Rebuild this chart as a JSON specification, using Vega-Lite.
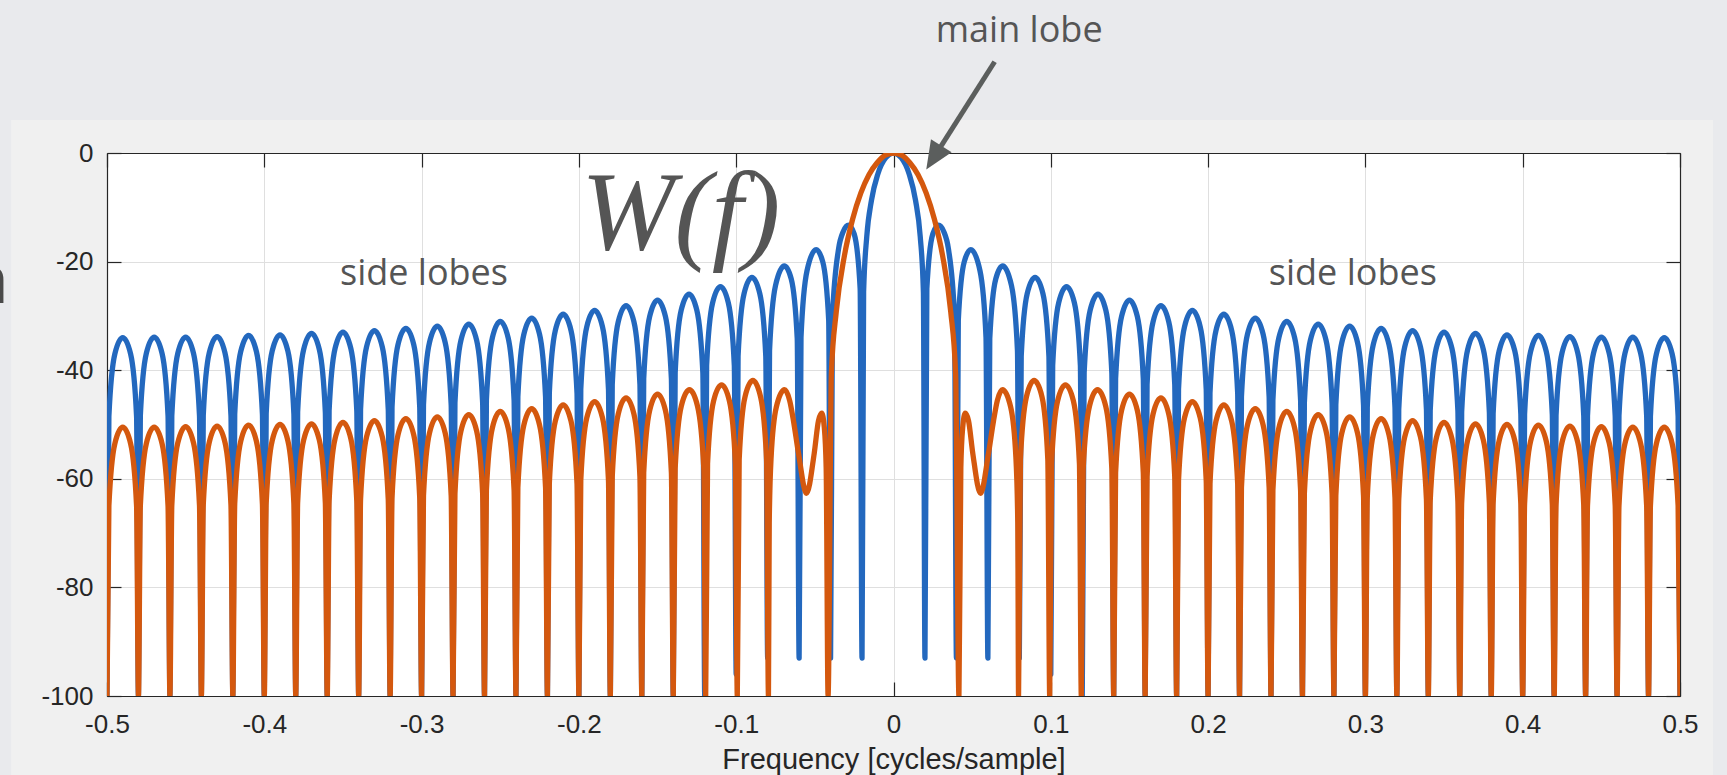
{
"$schema": "https://vega.github.io/schema/vega-lite/v6.json",
"autosize": {"type": "none"},
"width": 1573,
"height": 543,
"padding": {"left": 107, "top": 153, "right": 47, "bottom": 79},
"background": "#f0f0f0",
"config": {"view": {"fill": "white", "stroke": null}},
"datasets": {
"rect": [
{"f":-0.5,"db":-100},{"f":-0.4988,"db":-48.5},{"f":-0.495,"db":-37.0},{"f":-0.49,"db":-34.0},{"f":-0.485,"db":-37.0},{"f":-0.4812,"db":-48.5},
{"f":-0.48,"db":-100},{"f":-0.4788,"db":-48.4},{"f":-0.475,"db":-36.9},{"f":-0.47,"db":-33.9},{"f":-0.465,"db":-36.9},{"f":-0.4612,"db":-48.4},
{"f":-0.46,"db":-100},{"f":-0.4588,"db":-48.4},{"f":-0.455,"db":-36.9},{"f":-0.45,"db":-33.9},{"f":-0.445,"db":-36.9},{"f":-0.4412,"db":-48.4},
{"f":-0.44,"db":-100},{"f":-0.4388,"db":-48.3},{"f":-0.435,"db":-36.8},{"f":-0.43,"db":-33.8},{"f":-0.425,"db":-36.8},{"f":-0.4212,"db":-48.3},
{"f":-0.42,"db":-100},{"f":-0.4188,"db":-48.1},{"f":-0.415,"db":-36.6},{"f":-0.41,"db":-33.6},{"f":-0.405,"db":-36.6},{"f":-0.4012,"db":-48.1},
{"f":-0.4,"db":-100},{"f":-0.3988,"db":-48.0},{"f":-0.395,"db":-36.5},{"f":-0.39,"db":-33.5},{"f":-0.385,"db":-36.5},{"f":-0.3812,"db":-48.0},
{"f":-0.38,"db":-100},{"f":-0.3788,"db":-47.7},{"f":-0.375,"db":-36.2},{"f":-0.37,"db":-33.2},{"f":-0.365,"db":-36.2},{"f":-0.3612,"db":-47.7},
{"f":-0.36,"db":-100},{"f":-0.3588,"db":-47.5},{"f":-0.355,"db":-36.0},{"f":-0.35,"db":-33.0},{"f":-0.345,"db":-36.0},{"f":-0.3412,"db":-47.5},
{"f":-0.34,"db":-100},{"f":-0.3388,"db":-47.2},{"f":-0.335,"db":-35.7},{"f":-0.33,"db":-32.7},{"f":-0.325,"db":-35.7},{"f":-0.3212,"db":-47.2},
{"f":-0.32,"db":-100},{"f":-0.3188,"db":-46.8},{"f":-0.315,"db":-35.3},{"f":-0.31,"db":-32.3},{"f":-0.305,"db":-35.3},{"f":-0.3012,"db":-46.8},
{"f":-0.3,"db":-100},{"f":-0.2988,"db":-46.4},{"f":-0.295,"db":-34.9},{"f":-0.29,"db":-31.9},{"f":-0.285,"db":-34.9},{"f":-0.2812,"db":-46.4},
{"f":-0.28,"db":-100},{"f":-0.2788,"db":-46.0},{"f":-0.275,"db":-34.5},{"f":-0.27,"db":-31.5},{"f":-0.265,"db":-34.5},{"f":-0.2612,"db":-46.0},
{"f":-0.26,"db":-100},{"f":-0.2588,"db":-45.5},{"f":-0.255,"db":-34.0},{"f":-0.25,"db":-31.0},{"f":-0.245,"db":-34.0},{"f":-0.2412,"db":-45.5},
{"f":-0.24,"db":-100},{"f":-0.2388,"db":-44.9},{"f":-0.235,"db":-33.4},{"f":-0.23,"db":-30.4},{"f":-0.225,"db":-33.4},{"f":-0.2212,"db":-44.9},
{"f":-0.22,"db":-100},{"f":-0.2188,"db":-44.2},{"f":-0.215,"db":-32.7},{"f":-0.21,"db":-29.7},{"f":-0.205,"db":-32.7},{"f":-0.2012,"db":-44.2},
{"f":-0.2,"db":-100},{"f":-0.1988,"db":-43.5},{"f":-0.195,"db":-32.0},{"f":-0.19,"db":-29.0},{"f":-0.185,"db":-32.0},{"f":-0.1812,"db":-43.5},
{"f":-0.18,"db":-100},{"f":-0.1788,"db":-42.6},{"f":-0.175,"db":-31.1},{"f":-0.17,"db":-28.1},{"f":-0.165,"db":-31.1},{"f":-0.1612,"db":-42.6},
{"f":-0.16,"db":-100},{"f":-0.1588,"db":-41.6},{"f":-0.155,"db":-30.1},{"f":-0.15,"db":-27.1},{"f":-0.145,"db":-30.1},{"f":-0.1412,"db":-41.6},
{"f":-0.14,"db":-100},{"f":-0.1388,"db":-40.5},{"f":-0.135,"db":-29.0},{"f":-0.13,"db":-26.0},{"f":-0.125,"db":-29.0},{"f":-0.1212,"db":-40.5},
{"f":-0.12,"db":-100},{"f":-0.1188,"db":-39.1},{"f":-0.115,"db":-27.6},{"f":-0.11,"db":-24.6},{"f":-0.105,"db":-27.6},{"f":-0.1012,"db":-39.1},
{"f":-0.1,"db":-96},{"f":-0.0988,"db":-37.4},{"f":-0.095,"db":-25.9},{"f":-0.09,"db":-22.9},{"f":-0.085,"db":-25.9},{"f":-0.0812,"db":-37.4},
{"f":-0.08,"db":-93},{"f":-0.0788,"db":-36.4},{"f":-0.075,"db":-24.4},{"f":-0.0694,"db":-20.8},{"f":-0.065,"db":-23.2},{"f":-0.0612,"db":-34.2},
{"f":-0.06,"db":-93},{"f":-0.0588,"db":-33.9},{"f":-0.055,"db":-21.7},{"f":-0.0492,"db":-17.8},{"f":-0.045,"db":-20.0},{"f":-0.0412,"db":-30.8},
{"f":-0.04,"db":-93},{"f":-0.0388,"db":-30.2},{"f":-0.035,"db":-17.8},{"f":-0.032,"db":-14.5},{"f":-0.0286,"db":-13.3},{"f":-0.025,"db":-14.9},{"f":-0.0212,"db":-25.0},
{"f":-0.02,"db":-93},{"f":-0.019,"db":-25.6},{"f":-0.017,"db":-15.4},{"f":-0.014,"db":-8.7},{"f":-0.01,"db":-3.9},{"f":-0.005,"db":-0.9},
{"f":0,"db":0},
{"f":0.005,"db":-0.9},{"f":0.01,"db":-3.9},{"f":0.014,"db":-8.7},{"f":0.017,"db":-15.4},{"f":0.019,"db":-25.6},{"f":0.02,"db":-93},
{"f":0.0212,"db":-25.0},{"f":0.025,"db":-14.9},{"f":0.0286,"db":-13.3},{"f":0.032,"db":-14.5},{"f":0.035,"db":-17.8},{"f":0.0388,"db":-30.2},{"f":0.04,"db":-93},
{"f":0.0412,"db":-30.8},{"f":0.045,"db":-20.0},{"f":0.0492,"db":-17.8},{"f":0.055,"db":-21.7},{"f":0.0588,"db":-33.9},{"f":0.06,"db":-93},
{"f":0.0612,"db":-34.2},{"f":0.065,"db":-23.2},{"f":0.0694,"db":-20.8},{"f":0.075,"db":-24.4},{"f":0.0788,"db":-36.4},{"f":0.08,"db":-93},
{"f":0.0812,"db":-37.4},{"f":0.085,"db":-25.9},{"f":0.09,"db":-22.9},{"f":0.095,"db":-25.9},{"f":0.0988,"db":-37.4},{"f":0.1,"db":-96},
{"f":0.1012,"db":-39.1},{"f":0.105,"db":-27.6},{"f":0.11,"db":-24.6},{"f":0.115,"db":-27.6},{"f":0.1188,"db":-39.1},{"f":0.12,"db":-100},
{"f":0.1212,"db":-40.5},{"f":0.125,"db":-29.0},{"f":0.13,"db":-26.0},{"f":0.135,"db":-29.0},{"f":0.1388,"db":-40.5},{"f":0.14,"db":-100},
{"f":0.1412,"db":-41.6},{"f":0.145,"db":-30.1},{"f":0.15,"db":-27.1},{"f":0.155,"db":-30.1},{"f":0.1588,"db":-41.6},{"f":0.16,"db":-100},
{"f":0.1612,"db":-42.6},{"f":0.165,"db":-31.1},{"f":0.17,"db":-28.1},{"f":0.175,"db":-31.1},{"f":0.1788,"db":-42.6},{"f":0.18,"db":-100},
{"f":0.1812,"db":-43.5},{"f":0.185,"db":-32.0},{"f":0.19,"db":-29.0},{"f":0.195,"db":-32.0},{"f":0.1988,"db":-43.5},{"f":0.2,"db":-100},
{"f":0.2012,"db":-44.2},{"f":0.205,"db":-32.7},{"f":0.21,"db":-29.7},{"f":0.215,"db":-32.7},{"f":0.2188,"db":-44.2},{"f":0.22,"db":-100},
{"f":0.2212,"db":-44.9},{"f":0.225,"db":-33.4},{"f":0.23,"db":-30.4},{"f":0.235,"db":-33.4},{"f":0.2388,"db":-44.9},{"f":0.24,"db":-100},
{"f":0.2412,"db":-45.5},{"f":0.245,"db":-34.0},{"f":0.25,"db":-31.0},{"f":0.255,"db":-34.0},{"f":0.2588,"db":-45.5},{"f":0.26,"db":-100},
{"f":0.2612,"db":-46.0},{"f":0.265,"db":-34.5},{"f":0.27,"db":-31.5},{"f":0.275,"db":-34.5},{"f":0.2788,"db":-46.0},{"f":0.28,"db":-100},
{"f":0.2812,"db":-46.4},{"f":0.285,"db":-34.9},{"f":0.29,"db":-31.9},{"f":0.295,"db":-34.9},{"f":0.2988,"db":-46.4},{"f":0.3,"db":-100},
{"f":0.3012,"db":-46.8},{"f":0.305,"db":-35.3},{"f":0.31,"db":-32.3},{"f":0.315,"db":-35.3},{"f":0.3188,"db":-46.8},{"f":0.32,"db":-100},
{"f":0.3212,"db":-47.2},{"f":0.325,"db":-35.7},{"f":0.33,"db":-32.7},{"f":0.335,"db":-35.7},{"f":0.3388,"db":-47.2},{"f":0.34,"db":-100},
{"f":0.3412,"db":-47.5},{"f":0.345,"db":-36.0},{"f":0.35,"db":-33.0},{"f":0.355,"db":-36.0},{"f":0.3588,"db":-47.5},{"f":0.36,"db":-100},
{"f":0.3612,"db":-47.7},{"f":0.365,"db":-36.2},{"f":0.37,"db":-33.2},{"f":0.375,"db":-36.2},{"f":0.3788,"db":-47.7},{"f":0.38,"db":-100},
{"f":0.3812,"db":-48.0},{"f":0.385,"db":-36.5},{"f":0.39,"db":-33.5},{"f":0.395,"db":-36.5},{"f":0.3988,"db":-48.0},{"f":0.4,"db":-100},
{"f":0.4012,"db":-48.1},{"f":0.405,"db":-36.6},{"f":0.41,"db":-33.6},{"f":0.415,"db":-36.6},{"f":0.4188,"db":-48.1},{"f":0.42,"db":-100},
{"f":0.4212,"db":-48.3},{"f":0.425,"db":-36.8},{"f":0.43,"db":-33.8},{"f":0.435,"db":-36.8},{"f":0.4388,"db":-48.3},{"f":0.44,"db":-100},
{"f":0.4412,"db":-48.4},{"f":0.445,"db":-36.9},{"f":0.45,"db":-33.9},{"f":0.455,"db":-36.9},{"f":0.4588,"db":-48.4},{"f":0.46,"db":-100},
{"f":0.4612,"db":-48.4},{"f":0.465,"db":-36.9},{"f":0.47,"db":-33.9},{"f":0.475,"db":-36.9},{"f":0.4788,"db":-48.4},{"f":0.48,"db":-100},
{"f":0.4812,"db":-48.5},{"f":0.485,"db":-37.0},{"f":0.49,"db":-34.0},{"f":0.495,"db":-37.0},{"f":0.4988,"db":-48.5},{"f":0.5,"db":-100}
],
"hamming": [
{"f":-0.5,"db":-100},{"f":-0.4988,"db":-65.0},{"f":-0.495,"db":-53.5},{"f":-0.49,"db":-50.5},{"f":-0.485,"db":-53.5},{"f":-0.4812,"db":-65.0},
{"f":-0.48,"db":-100},{"f":-0.4788,"db":-65.0},{"f":-0.475,"db":-53.5},{"f":-0.47,"db":-50.5},{"f":-0.465,"db":-53.5},{"f":-0.4612,"db":-65.0},
{"f":-0.46,"db":-100},{"f":-0.4588,"db":-64.9},{"f":-0.455,"db":-53.4},{"f":-0.45,"db":-50.4},{"f":-0.445,"db":-53.4},{"f":-0.4412,"db":-64.9},
{"f":-0.44,"db":-100},{"f":-0.4388,"db":-64.8},{"f":-0.435,"db":-53.3},{"f":-0.43,"db":-50.3},{"f":-0.425,"db":-53.3},{"f":-0.4212,"db":-64.8},
{"f":-0.42,"db":-100},{"f":-0.4188,"db":-64.6},{"f":-0.415,"db":-53.1},{"f":-0.41,"db":-50.1},{"f":-0.405,"db":-53.1},{"f":-0.4012,"db":-64.6},
{"f":-0.4,"db":-100},{"f":-0.3988,"db":-64.5},{"f":-0.395,"db":-53.0},{"f":-0.39,"db":-50.0},{"f":-0.385,"db":-53.0},{"f":-0.3812,"db":-64.5},
{"f":-0.38,"db":-100},{"f":-0.3788,"db":-64.4},{"f":-0.375,"db":-52.9},{"f":-0.37,"db":-49.9},{"f":-0.365,"db":-52.9},{"f":-0.3612,"db":-64.4},
{"f":-0.36,"db":-100},{"f":-0.3588,"db":-64.1},{"f":-0.355,"db":-52.6},{"f":-0.35,"db":-49.6},{"f":-0.345,"db":-52.6},{"f":-0.3412,"db":-64.1},
{"f":-0.34,"db":-100},{"f":-0.3388,"db":-63.8},{"f":-0.335,"db":-52.3},{"f":-0.33,"db":-49.3},{"f":-0.325,"db":-52.3},{"f":-0.3212,"db":-63.8},
{"f":-0.32,"db":-100},{"f":-0.3188,"db":-63.4},{"f":-0.315,"db":-51.9},{"f":-0.31,"db":-48.9},{"f":-0.305,"db":-51.9},{"f":-0.3012,"db":-63.4},
{"f":-0.3,"db":-100},{"f":-0.2988,"db":-63.1},{"f":-0.295,"db":-51.6},{"f":-0.29,"db":-48.6},{"f":-0.285,"db":-51.6},{"f":-0.2812,"db":-63.1},
{"f":-0.28,"db":-100},{"f":-0.2788,"db":-62.7},{"f":-0.275,"db":-51.2},{"f":-0.27,"db":-48.2},{"f":-0.265,"db":-51.2},{"f":-0.2612,"db":-62.7},
{"f":-0.26,"db":-100},{"f":-0.2588,"db":-62.1},{"f":-0.255,"db":-50.6},{"f":-0.25,"db":-47.6},{"f":-0.245,"db":-50.6},{"f":-0.2412,"db":-62.1},
{"f":-0.24,"db":-100},{"f":-0.2388,"db":-61.6},{"f":-0.235,"db":-50.1},{"f":-0.23,"db":-47.1},{"f":-0.225,"db":-50.1},{"f":-0.2212,"db":-61.6},
{"f":-0.22,"db":-100},{"f":-0.2188,"db":-60.9},{"f":-0.215,"db":-49.4},{"f":-0.21,"db":-46.4},{"f":-0.205,"db":-49.4},{"f":-0.2012,"db":-60.9},
{"f":-0.2,"db":-100},{"f":-0.1988,"db":-60.3},{"f":-0.195,"db":-48.8},{"f":-0.19,"db":-45.8},{"f":-0.185,"db":-48.8},{"f":-0.1812,"db":-60.3},
{"f":-0.18,"db":-100},{"f":-0.1788,"db":-59.6},{"f":-0.175,"db":-48.1},{"f":-0.17,"db":-45.1},{"f":-0.165,"db":-48.1},{"f":-0.1612,"db":-59.6},
{"f":-0.16,"db":-100},{"f":-0.1588,"db":-58.9},{"f":-0.155,"db":-47.4},{"f":-0.15,"db":-44.4},{"f":-0.145,"db":-47.4},{"f":-0.1412,"db":-58.9},
{"f":-0.14,"db":-100},{"f":-0.1388,"db":-58.1},{"f":-0.1349,"db":-46.6},{"f":-0.1297,"db":-43.6},{"f":-0.1246,"db":-46.6},{"f":-0.1206,"db":-58.1},
{"f":-0.1194,"db":-100},{"f":-0.1182,"db":-57.2},{"f":-0.1144,"db":-45.7},{"f":-0.1093,"db":-42.7},{"f":-0.1043,"db":-45.7},{"f":-0.1005,"db":-57.2},
{"f":-0.0993,"db":-100},{"f":-0.0981,"db":-56.4},{"f":-0.0944,"db":-44.9},{"f":-0.0894,"db":-41.9},{"f":-0.0845,"db":-44.9},{"f":-0.0807,"db":-56.4},
{"f":-0.0795,"db":-100},{"f":-0.079,"db":-68},{"f":-0.0778,"db":-56.0},{"f":-0.0745,"db":-46.8},{"f":-0.0693,"db":-43.6},{"f":-0.066,"db":-45.6},{"f":-0.0636,"db":-49.3},
{"f":-0.0604,"db":-55.3},{"f":-0.0553,"db":-62.7},{"f":-0.0504,"db":-55.3},{"f":-0.0477,"db":-49.3},{"f":-0.0456,"db":-47.9},{"f":-0.044,"db":-50.5},{"f":-0.0428,"db":-58},
{"f":-0.0416,"db":-100},{"f":-0.0395,"db":-40.7},{"f":-0.0364,"db":-29.3},{"f":-0.0312,"db":-18.9},{"f":-0.026,"db":-12.2},{"f":-0.0208,"db":-7.4},{"f":-0.0156,"db":-4.0},{"f":-0.0104,"db":-1.8},{"f":-0.0052,"db":-0.4},
{"f":0,"db":0},
{"f":0.0052,"db":-0.4},{"f":0.0104,"db":-1.8},{"f":0.0156,"db":-4.0},{"f":0.0208,"db":-7.4},{"f":0.026,"db":-12.2},{"f":0.0312,"db":-18.9},{"f":0.0364,"db":-29.3},{"f":0.0395,"db":-40.7},{"f":0.0416,"db":-100},
{"f":0.0428,"db":-58},{"f":0.044,"db":-50.5},{"f":0.0456,"db":-47.9},{"f":0.0477,"db":-49.3},{"f":0.0504,"db":-55.3},{"f":0.0553,"db":-62.7},{"f":0.0604,"db":-55.3},
{"f":0.0636,"db":-49.3},{"f":0.066,"db":-45.6},{"f":0.0693,"db":-43.6},{"f":0.0745,"db":-46.8},{"f":0.0778,"db":-56.0},{"f":0.079,"db":-68},{"f":0.0795,"db":-100},
{"f":0.0807,"db":-56.4},{"f":0.0845,"db":-44.9},{"f":0.0894,"db":-41.9},{"f":0.0944,"db":-44.9},{"f":0.0981,"db":-56.4},{"f":0.0993,"db":-100},
{"f":0.1005,"db":-57.2},{"f":0.1043,"db":-45.7},{"f":0.1093,"db":-42.7},{"f":0.1144,"db":-45.7},{"f":0.1182,"db":-57.2},{"f":0.1194,"db":-100},
{"f":0.1206,"db":-58.1},{"f":0.1246,"db":-46.6},{"f":0.1297,"db":-43.6},{"f":0.1349,"db":-46.6},{"f":0.1388,"db":-58.1},{"f":0.14,"db":-100},
{"f":0.1412,"db":-58.9},{"f":0.145,"db":-47.4},{"f":0.15,"db":-44.4},{"f":0.155,"db":-47.4},{"f":0.1588,"db":-58.9},{"f":0.16,"db":-100},
{"f":0.1612,"db":-59.6},{"f":0.165,"db":-48.1},{"f":0.17,"db":-45.1},{"f":0.175,"db":-48.1},{"f":0.1788,"db":-59.6},{"f":0.18,"db":-100},
{"f":0.1812,"db":-60.3},{"f":0.185,"db":-48.8},{"f":0.19,"db":-45.8},{"f":0.195,"db":-48.8},{"f":0.1988,"db":-60.3},{"f":0.2,"db":-100},
{"f":0.2012,"db":-60.9},{"f":0.205,"db":-49.4},{"f":0.21,"db":-46.4},{"f":0.215,"db":-49.4},{"f":0.2188,"db":-60.9},{"f":0.22,"db":-100},
{"f":0.2212,"db":-61.6},{"f":0.225,"db":-50.1},{"f":0.23,"db":-47.1},{"f":0.235,"db":-50.1},{"f":0.2388,"db":-61.6},{"f":0.24,"db":-100},
{"f":0.2412,"db":-62.1},{"f":0.245,"db":-50.6},{"f":0.25,"db":-47.6},{"f":0.255,"db":-50.6},{"f":0.2588,"db":-62.1},{"f":0.26,"db":-100},
{"f":0.2612,"db":-62.7},{"f":0.265,"db":-51.2},{"f":0.27,"db":-48.2},{"f":0.275,"db":-51.2},{"f":0.2788,"db":-62.7},{"f":0.28,"db":-100},
{"f":0.2812,"db":-63.1},{"f":0.285,"db":-51.6},{"f":0.29,"db":-48.6},{"f":0.295,"db":-51.6},{"f":0.2988,"db":-63.1},{"f":0.3,"db":-100},
{"f":0.3012,"db":-63.4},{"f":0.305,"db":-51.9},{"f":0.31,"db":-48.9},{"f":0.315,"db":-51.9},{"f":0.3188,"db":-63.4},{"f":0.32,"db":-100},
{"f":0.3212,"db":-63.8},{"f":0.325,"db":-52.3},{"f":0.33,"db":-49.3},{"f":0.335,"db":-52.3},{"f":0.3388,"db":-63.8},{"f":0.34,"db":-100},
{"f":0.3412,"db":-64.1},{"f":0.345,"db":-52.6},{"f":0.35,"db":-49.6},{"f":0.355,"db":-52.6},{"f":0.3588,"db":-64.1},{"f":0.36,"db":-100},
{"f":0.3612,"db":-64.4},{"f":0.365,"db":-52.9},{"f":0.37,"db":-49.9},{"f":0.375,"db":-52.9},{"f":0.3788,"db":-64.4},{"f":0.38,"db":-100},
{"f":0.3812,"db":-64.5},{"f":0.385,"db":-53.0},{"f":0.39,"db":-50.0},{"f":0.395,"db":-53.0},{"f":0.3988,"db":-64.5},{"f":0.4,"db":-100},
{"f":0.4012,"db":-64.6},{"f":0.405,"db":-53.1},{"f":0.41,"db":-50.1},{"f":0.415,"db":-53.1},{"f":0.4188,"db":-64.6},{"f":0.42,"db":-100},
{"f":0.4212,"db":-64.8},{"f":0.425,"db":-53.3},{"f":0.43,"db":-50.3},{"f":0.435,"db":-53.3},{"f":0.4388,"db":-64.8},{"f":0.44,"db":-100},
{"f":0.4412,"db":-64.9},{"f":0.445,"db":-53.4},{"f":0.45,"db":-50.4},{"f":0.455,"db":-53.4},{"f":0.4588,"db":-64.9},{"f":0.46,"db":-100},
{"f":0.4612,"db":-65.0},{"f":0.465,"db":-53.5},{"f":0.47,"db":-50.5},{"f":0.475,"db":-53.5},{"f":0.4788,"db":-65.0},{"f":0.48,"db":-100},
{"f":0.4812,"db":-65.0},{"f":0.485,"db":-53.5},{"f":0.49,"db":-50.5},{"f":0.495,"db":-53.5},{"f":0.4988,"db":-65.0},{"f":0.5,"db":-100}
]
},
"resolve": {"axis": {"x": "independent", "y": "independent"}},
"layer": [
{
"data": {"values": [{}]},
"mark": {"type": "rect", "color": "#e9eaed"},
"encoding": {
"x": {"datum": -0.6, "type": "quantitative", "scale": {"domain": [-0.5, 0.5], "nice": false, "zero": false}, "axis": null},
"x2": {"datum": 0.6},
"y": {"datum": 30, "type": "quantitative", "scale": {"domain": [-100, 0], "nice": false, "zero": false}, "axis": null},
"y2": {"datum": 6.08}
}
},
{
"data": {"values": [{}]},
"mark": {"type": "rect", "color": "#e9eaed"},
"encoding": {
"x": {"datum": -0.6, "type": "quantitative", "scale": {"domain": [-0.5, 0.5], "nice": false, "zero": false}, "axis": null},
"x2": {"datum": -0.561},
"y": {"datum": 30, "type": "quantitative", "scale": {"domain": [-100, 0], "nice": false, "zero": false}, "axis": null},
"y2": {"datum": -130}
}
},
{
"data": {"values": [{}]},
"mark": {"type": "rect", "color": "#e9eaed"},
"encoding": {
"x": {"datum": 0.521, "type": "quantitative", "scale": {"domain": [-0.5, 0.5], "nice": false, "zero": false}, "axis": null},
"x2": {"datum": 0.6},
"y": {"datum": 30, "type": "quantitative", "scale": {"domain": [-100, 0], "nice": false, "zero": false}, "axis": null},
"y2": {"datum": -130}
}
},
{
"data": {"name": "rect"},
"mark": {"type": "line", "color": "#2368BE", "strokeWidth": 5.3, "interpolate": "monotone", "clip": true, "strokeJoin": "round"},
"encoding": {
"x": {"field": "f", "type": "quantitative", "scale": {"domain": [-0.5, 0.5], "nice": false, "zero": false},
"axis": {"orient": "bottom", "values": [-0.5, -0.4, -0.3, -0.2, -0.1, 0, 0.1, 0.2, 0.3, 0.4, 0.5], "labelExpr": "toString(datum.value)",
"labelFont": "Liberation Sans", "labelFontSize": 26, "labelColor": "#262626", "labelPadding": 29, "labelFlush": false,
"tickSize": -14, "tickColor": "#262626", "tickWidth": 1.2, "domainColor": "#262626", "domainWidth": 1.2,
"grid": true, "gridColor": "#dfdfdf", "gridWidth": 1,
"title": "Frequency [cycles/sample]", "titleFont": "Liberation Sans", "titleFontSize": 29, "titleFontWeight": "normal", "titleColor": "#262626", "titleBaseline": "alphabetic", "titleY": 72}},
"y": {"field": "db", "type": "quantitative", "scale": {"domain": [-100, 0], "nice": false, "zero": false},
"axis": {"orient": "left", "values": [-100, -80, -60, -40, -20, 0], "labelExpr": "toString(datum.value)",
"labelFont": "Liberation Sans", "labelFontSize": 26, "labelColor": "#262626", "labelPadding": 28,
"tickSize": -14, "tickColor": "#262626", "tickWidth": 1.2, "domainColor": "#262626", "domainWidth": 1.2,
"grid": true, "gridColor": "#dfdfdf", "gridWidth": 1, "title": null}}
}
},
{
"data": {"name": "hamming"},
"mark": {"type": "line", "color": "#D4580E", "strokeWidth": 5.3, "interpolate": "monotone", "clip": true, "strokeJoin": "round"},
"encoding": {
"x": {"field": "f", "type": "quantitative", "scale": {"domain": [-0.5, 0.5], "nice": false, "zero": false},
"axis": {"orient": "top", "values": [-0.5, -0.4, -0.3, -0.2, -0.1, 0, 0.1, 0.2, 0.3, 0.4, 0.5], "labels": false,
"tickSize": -14, "tickColor": "#262626", "tickWidth": 1.2, "domainColor": "#262626", "domainWidth": 1.2, "grid": false, "title": null}},
"y": {"field": "db", "type": "quantitative", "scale": {"domain": [-100, 0], "nice": false, "zero": false},
"axis": {"orient": "right", "values": [-100, -80, -60, -40, -20, 0], "labels": false,
"tickSize": -14, "tickColor": "#262626", "tickWidth": 1.2, "domainColor": "#262626", "domainWidth": 1.2, "grid": false, "title": null}}
}
},
{
"data": {"values": [{}]},
"mark": {"type": "text", "text": "n", "font": "Open Sans", "fontSize": 68, "align": "right", "baseline": "alphabetic", "color": "#4a4a4a"},
"encoding": {
"x": {"datum": -0.5623, "type": "quantitative", "scale": {"domain": [-0.5, 0.5], "nice": false, "zero": false}, "axis": null},
"y": {"datum": -27.7, "type": "quantitative", "scale": {"domain": [-100, 0], "nice": false, "zero": false}, "axis": null}
}
},
{
"data": {"values": [{}]},
"mark": {"type": "text", "text": "W(f)", "font": "Liberation Serif", "fontStyle": "italic", "fontSize": 112, "align": "center", "baseline": "alphabetic", "color": "#555555"},
"encoding": {
"x": {"datum": -0.1353, "type": "quantitative", "scale": {"domain": [-0.5, 0.5], "nice": false, "zero": false}, "axis": null},
"y": {"datum": -17.6, "type": "quantitative", "scale": {"domain": [-100, 0], "nice": false, "zero": false}, "axis": null}
}
},
{
"data": {"values": [{}]},
"mark": {"type": "text", "text": "side lobes", "font": "Open Sans", "fontSize": 36, "align": "center", "baseline": "alphabetic", "color": "#555555"},
"encoding": {
"x": {"datum": -0.2985, "type": "quantitative", "scale": {"domain": [-0.5, 0.5], "nice": false, "zero": false}, "axis": null},
"y": {"datum": -24.4, "type": "quantitative", "scale": {"domain": [-100, 0], "nice": false, "zero": false}, "axis": null}
}
},
{
"data": {"values": [{}]},
"mark": {"type": "text", "text": "side lobes", "font": "Open Sans", "fontSize": 36, "align": "center", "baseline": "alphabetic", "color": "#555555"},
"encoding": {
"x": {"datum": 0.292, "type": "quantitative", "scale": {"domain": [-0.5, 0.5], "nice": false, "zero": false}, "axis": null},
"y": {"datum": -24.4, "type": "quantitative", "scale": {"domain": [-100, 0], "nice": false, "zero": false}, "axis": null}
}
},
{
"data": {"values": [{}]},
"mark": {"type": "text", "text": "main lobe", "font": "Open Sans", "fontSize": 36, "align": "center", "baseline": "alphabetic", "color": "#555555"},
"encoding": {
"x": {"datum": 0.0799, "type": "quantitative", "scale": {"domain": [-0.5, 0.5], "nice": false, "zero": false}, "axis": null},
"y": {"datum": 20.4, "type": "quantitative", "scale": {"domain": [-100, 0], "nice": false, "zero": false}, "axis": null}
}
},
{
"data": {"values": [{}]},
"mark": {"type": "rule", "color": "#5b5e5d", "strokeWidth": 5},
"encoding": {
"x": {"datum": 0.0643, "type": "quantitative", "scale": {"domain": [-0.5, 0.5], "nice": false, "zero": false}, "axis": null},
"y": {"datum": 16.8, "type": "quantitative", "scale": {"domain": [-100, 0], "nice": false, "zero": false}, "axis": null},
"x2": {"datum": 0.0268},
"y2": {"datum": -0.3}
}
},
{
"data": {"values": [{}]},
"mark": {"type": "point", "shape": "M0,-1L0.7,0.6L-0.7,0.6Z", "size": 1225, "angle": 212.5, "filled": true, "opacity": 1, "color": "#5b5e5d"},
"encoding": {
"x": {"datum": 0.0268, "type": "quantitative", "scale": {"domain": [-0.5, 0.5], "nice": false, "zero": false}, "axis": null},
"y": {"datum": -0.3, "type": "quantitative", "scale": {"domain": [-100, 0], "nice": false, "zero": false}, "axis": null}
}
}
]
}
